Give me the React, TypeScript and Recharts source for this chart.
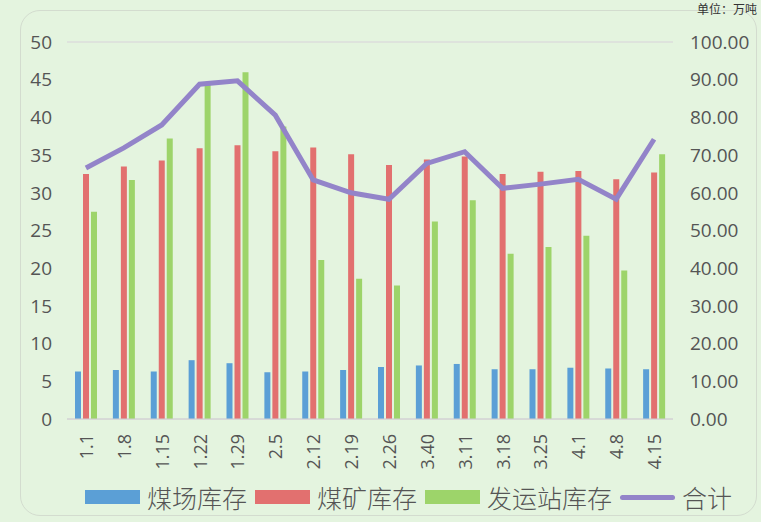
import { ComposedChart, Bar, Line, XAxis, YAxis, CartesianGrid, Legend } from "recharts";

const dates = ["1.1", "1.8", "1.15", "1.22", "1.29", "2.5", "2.12", "2.19", "2.26", "3.40", "3.11", "3.18", "3.25", "4.1", "4.8", "4.15"];
const yardStock = [6.3, 6.5, 6.3, 7.8, 7.4, 6.2, 6.3, 6.5, 6.9, 7.1, 7.3, 6.6, 6.6, 6.8, 6.7, 6.6];
const mineStock = [32.5, 33.5, 34.3, 35.9, 36.3, 35.5, 36.0, 35.1, 33.7, 34.4, 34.8, 32.5, 32.8, 32.9, 31.8, 32.7];
const stationStock = [27.5, 31.7, 37.2, 44.5, 46.0, 38.8, 21.1, 18.6, 17.7, 26.2, 29.0, 21.9, 22.8, 24.3, 19.7, 35.1];
const totals = [66.6, 71.9, 78.0, 88.8, 89.7, 80.6, 63.4, 60.0, 58.3, 67.8, 70.9, 61.2, 62.3, 63.6, 58.3, 74.2];

const leftTicks = [0, 5, 10, 15, 20, 25, 30, 35, 40, 45, 50];
const rightTicks = [0, 10, 20, 30, 40, 50, 60, 70, 80, 90, 100];

const data = dates.map((d, i) => ({
  date: d,
  yard: yardStock[i],
  mine: mineStock[i],
  station: stationStock[i],
  total: totals[i],
}));

const BLUE = "#5b9fd6";
const RED = "#e2706f";
const GREEN = "#9dd46a";
const PURPLE = "#9384c9";
const TEXT = "#555555";
const NUM_FONT = "'Open Sans', 'Noto Sans', sans-serif";
const CJK_FONT = "'Noto Sans CJK SC', sans-serif";

const legendItems = [
  { name: "煤场库存", color: BLUE, kind: "rect" },
  { name: "煤矿库存", color: RED, kind: "rect" },
  { name: "发运站库存", color: GREEN, kind: "rect" },
  { name: "合计", color: PURPLE, kind: "line" },
];

function DateTick(props: any) {
  const { x, y, payload } = props;
  return (
    <text
      x={0}
      y={0}
      transform={`translate(${x},${y + 7}) rotate(-90)`}
      textAnchor="end"
      dominantBaseline="central"
      fill={TEXT}
      fontSize={18}
      fontFamily={NUM_FONT}
    >
      {payload.value}
    </text>
  );
}

function ChartLegend() {
  return (
    <div style={{ display: "flex", alignItems: "center", paddingLeft: 85, fontFamily: CJK_FONT, fontSize: 25, fontWeight: 300, color: TEXT, whiteSpace: "nowrap" }}>
      {legendItems.map((it) => (
        <div key={it.name} style={{ display: "flex", alignItems: "center", marginRight: 8 }}>
          {it.kind === "rect" ? (
            <span style={{ display: "inline-block", width: 55, height: 14, background: it.color, marginRight: 7 }} />
          ) : (
            <span style={{ display: "inline-block", width: 55, height: 5, borderRadius: 3, background: it.color, marginRight: 7 }} />
          )}
          <span>{it.name}</span>
        </div>
      ))}
    </div>
  );
}

export default function App() {
  return (
    <div style={{ position: "absolute", left: 0, top: 0, width: 761, height: 522, background: "#e4f4df", overflow: "hidden" }}>
      <div
        style={{
          position: "absolute",
          left: 20,
          top: 10,
          width: 737,
          height: 506,
          border: "1px solid #d3dccf",
          borderRadius: 20,
          boxSizing: "border-box",
        }}
      />
      <div
        style={{
          position: "absolute",
          right: 4,
          top: 2,
          fontFamily: CJK_FONT,
          fontSize: 12,
          lineHeight: "14px",
          color: "#333",
          whiteSpace: "nowrap",
        }}
      >
        单位：万吨
      </div>
      <ComposedChart
        width={761}
        height={522}
        data={data}
        margin={{ top: 42, right: 0, left: 0, bottom: 0 }}
        barGap={2}
        style={{ position: "absolute", left: 0, top: 0 }}
      >
        <CartesianGrid vertical={false} stroke="#d8d2da" />
        <XAxis
          dataKey="date"
          interval={0}
          tick={<DateTick />}
          tickLine={false}
          axisLine={{ stroke: "#d0d0d0" }}
          height={65}
        />
        <YAxis
          yAxisId="left"
          domain={[0, 50]}
          ticks={leftTicks}
          width={67}
          tickLine={false}
          axisLine={false}
          tickSize={0}
          tickMargin={15}
          tick={{ fill: TEXT, fontSize: 19, fontFamily: NUM_FONT }}
        />
        <YAxis
          yAxisId="right"
          orientation="right"
          domain={[0, 100]}
          ticks={rightTicks}
          width={88}
          tickLine={false}
          axisLine={false}
          tickSize={0}
          tickMargin={17}
          tickFormatter={(v: number) => v.toFixed(2)}
          tick={{ fill: TEXT, fontSize: 19, fontFamily: NUM_FONT }}
        />
        <Legend verticalAlign="bottom" height={38} content={<ChartLegend />} wrapperStyle={{ left: 0, width: 761, top: 479 }} />
        <Bar yAxisId="left" dataKey="yard" name="煤场库存" fill={BLUE} barSize={6} isAnimationActive={false} />
        <Bar yAxisId="left" dataKey="mine" name="煤矿库存" fill={RED} barSize={6} isAnimationActive={false} />
        <Bar yAxisId="left" dataKey="station" name="发运站库存" fill={GREEN} barSize={6} isAnimationActive={false} />
        <Line
          yAxisId="right"
          type="linear"
          dataKey="total"
          name="合计"
          stroke={PURPLE}
          strokeWidth={5}
          dot={false}
          isAnimationActive={false}
        />
      </ComposedChart>
    </div>
  );
}
